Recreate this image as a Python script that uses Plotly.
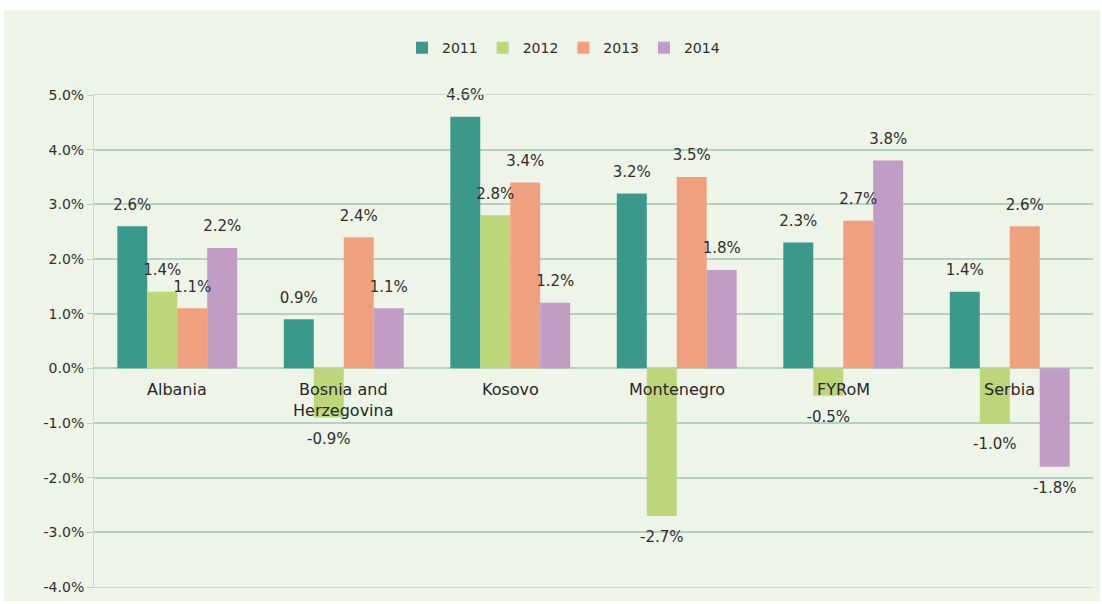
import plotly.graph_objects as go

countries = ["Albania", "Bosnia and<br>Herzegovina", "Kosovo", "Montenegro", "FYRoM", "Serbia"]
years = ["2011", "2012", "2013", "2014"]
v2011 = [2.6, 0.9, 4.6, 3.2, 2.3, 1.4]
v2012 = [1.4, -0.9, 2.8, -2.7, -0.5, -1.0]
v2013 = [1.1, 2.4, 3.4, 3.5, 2.7, 2.6]
v2014 = [2.2, 1.1, 1.2, 1.8, 3.8, -1.8]
series = [v2011, v2012, v2013, v2014]
tick_vals = [5, 4, 3, 2, 1, 0, -1, -2, -3, -4]
tick_text = ["5.0%", "4.0%", "3.0%", "2.0%", "1.0%", "0.0%", "-1.0%", "-2.0%", "-3.0%", "-4.0%"]
colors = ["#3B998B", "#BDD67A", "#EFA07E", "#C19CC4"]

FONT = "DejaVu Sans"
TXT = "#2e2e2e"

fig = go.Figure()
for yr, vals, col in zip(years, series, colors):
    fig.add_trace(go.Bar(
        x=countries, y=vals, name=yr, marker=dict(color=col, line=dict(width=0)),
        hoverinfo="skip",
    ))
# data labels as grouped scatter text, aligned with the bar offsets
for yr, vals in zip(years, series):
    fig.add_trace(go.Scatter(
        x=countries, y=vals, mode="markers+text", showlegend=False,
        text=[f"{v:.1f}%" for v in vals],
        textposition=["top center" if v >= 0 else "bottom center" for v in vals],
        marker=dict(size=[19 if v >= 0 else 22 for v in vals], opacity=0),
        textfont=dict(family=FONT, size=15, color=TXT),
        cliponaxis=False, hoverinfo="skip",
    ))

for c in countries:
    fig.add_annotation(x=c, y=0, xref="x", yref="y", text=c, showarrow=False,
                       yanchor="top", yshift=-10,
                       font=dict(family=FONT, size=16, color="#262626"))

W, H = 1102, 604
l, r, t, b = 94, 9, 95, 14
pw, ph = W - l - r, H - t - b
fig.add_shape(type="rect", xref="paper", yref="paper",
              x0=(4 - l) / pw, x1=(1100 - l) / pw,
              y0=(H - b - H) / ph, y1=(H - b - 10) / ph,
              fillcolor="#EEF5E8", line=dict(width=0), layer="below")

fig.update_layout(
    width=W, height=H, margin=dict(l=l, r=r, t=t, b=b),
    paper_bgcolor="white", plot_bgcolor="rgba(0,0,0,0)",
    barmode="group", bargap=0.28, bargroupgap=0,
    scattermode="group", scattergap=0.28,
    font=dict(family=FONT, size=14, color=TXT),
    legend=dict(orientation="h", x=0.47, xanchor="center", y=1.095, yanchor="middle",
                font=dict(family=FONT, size=14, color=TXT), itemwidth=30,
                bgcolor="rgba(0,0,0,0)"),
)
fig.update_xaxes(showticklabels=False, showgrid=False, showline=True,
                 linecolor="#C6D9CC", mirror=True, zeroline=False)
fig.update_yaxes(range=[-4, 5], tickmode="array", tickvals=tick_vals, ticktext=tick_text,
                 showgrid=True, gridcolor="#B7CFC2", gridwidth=1.5,
                 zeroline=True, zerolinecolor="#B7CFC2", zerolinewidth=1.5,
                 showline=True, linecolor="#C6D9CC",
                 ticks="outside", ticklen=6, tickcolor="#B7CFC2",
                 tickfont=dict(family=FONT, size=14, color=TXT))

fig.write_html("out.html", config={"displayModeBar": False},
               post_script="document.body.style.margin='0';")
